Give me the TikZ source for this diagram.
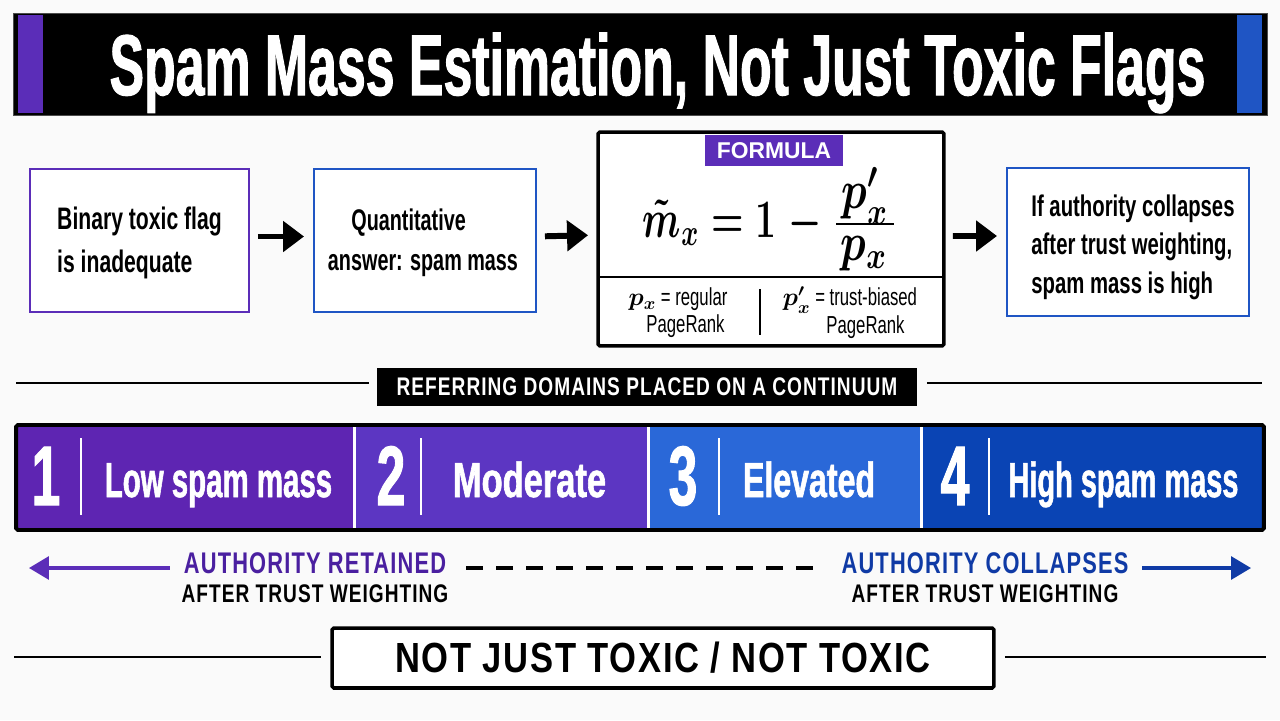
\documentclass[tikz,border=0pt]{standalone}
\usepackage[no-math]{fontspec}
\usepackage{amsmath}
\setmainfont{Liberation Sans}
\newfontfamily\condfont[FakeStretch=0.68]{Liberation Sans}
\newfontfamily\heavyfont[FakeStretch=0.68,FakeBold=1.2]{Liberation Sans Bold}
\newfontfamily\midfont[FakeStretch=0.75,LetterSpace=4]{Liberation Sans}
\newfontfamily\widefont[FakeStretch=0.82,LetterSpace=4]{Liberation Sans}
\usetikzlibrary{arrows.meta}
\definecolor{pagewhite}{HTML}{FAFAFA}
\definecolor{royalpurple}{HTML}{5B2DB8}
\definecolor{deeppurple}{HTML}{5E25B2}
\definecolor{midpurple}{HTML}{5C36C2}
\definecolor{darkpurple}{HTML}{4A1FA0}
\definecolor{brightblue}{HTML}{2A68D8}
\definecolor{edgeblue}{HTML}{1F55C4}
\definecolor{cobalt}{HTML}{0A44B4}
\definecolor{navyblue}{HTML}{0F3AA5}
\tikzset{
  plain/.style={inner sep=0pt,outer sep=0pt},
  flowbox/.style={plain,draw,line width=1.5pt,fill=white,minimum height=2.86cm},
  flowtext/.style={plain,align=left,font=\condfont\bfseries\fontsize{17}{23}\selectfont},
  bigarrow/.style={line width=3.4pt,-{Triangle[length=0.42cm,width=0.6cm]},shorten <=0.18cm,shorten >=0.2cm},
  eqnpart/.style={plain,anchor=base,yscale=2.14,font=\condfont\fontsize{14}{15.5}\selectfont},
  segment/.style={plain,minimum height=2.06cm},
  segnum/.style={plain,anchor=base,text=white,xscale=0.9,font=\heavyfont\fontsize{48}{48}\selectfont},
  seglabel/.style={plain,anchor=base,text=white,font=\heavyfont\fontsize{28}{28}\selectfont},
  segtick/.style={plain,fill=white,minimum width=0.05cm,minimum height=1.54cm},
  segline/.style={white,line width=1.7pt},
  rulefine/.style={line width=1.4pt},
  headtext/.style={plain,xscale=0.975,font=\midfont\bfseries\fontsize{17}{17}\selectfont},
  subtext/.style={plain,text=black,font=\midfont\bfseries\fontsize{14.5}{14.5}\selectfont},
  noteline/.style={plain,align=center,font=\condfont\fontsize{14}{15.5}\selectfont}
}
\begin{document}
\begin{tikzpicture}[x=0.02cm,y=-0.02cm]
\useasboundingbox (0,0) rectangle (1280,720);
\fill[pagewhite] (0,0) rectangle (1280,720);

% title bar
\node[plain,fill=black,draw=black!70,minimum width=25.08cm,minimum height=2.04cm] (titlebar) at (640,64) {};
\node[plain,fill=royalpurple,minimum width=0.5cm,minimum height=1.96cm] (titlel) at (30.5,64) {};
\node[plain,fill=edgeblue,minimum width=0.5cm,minimum height=1.96cm] (titler) at (1249.5,64) {};
\node[plain,anchor=base,xscale=0.885,text=white,font=\heavyfont\fontsize{49}{49}\selectfont] (title) at (657.5,95) {Spam Mass Estimation, Not Just Toxic Flags};

% top row
\node[flowbox,draw=royalpurple,minimum width=4.38cm] (binary) at (139.5,240.5) {};
\node[flowtext,font=\condfont\bfseries\fontsize{17.7}{23}\selectfont] (binarytext) at (139.5,243) {Binary toxic flag\\[1pt]is inadequate};
\node[flowbox,draw=edgeblue,minimum width=4.44cm] (quant) at (425,240.5) {};
\node[flowtext,xscale=0.975] (quanttext) at (423,243) {\hspace*{0.48cm}Quantitative\\answer: spam mass};
\node[plain,draw,line width=2pt,rounded corners=1pt,fill=white,minimum width=6.92cm,minimum height=4.28cm] (formula) at (771,239) {};
\node[flowbox,draw=edgeblue,minimum width=4.84cm,minimum height=2.96cm] (collapse) at (1128,242) {};
\node[flowtext] (collapsetext) at (1133,247) {If authority collapses\\[-1pt]after trust weighting,\\[-1pt]spam mass is high};
\draw[bigarrow] ([yshift=0.08cm]binary.east) -- ([yshift=0.08cm]quant.west);
\draw[bigarrow] ([yshift=0.08cm]quant.east) -- ([yshift=0.08cm]formula.west);
\draw[bigarrow] ([yshift=0.06cm]formula.east) -- ([yshift=0.12cm]collapse.west);

% formula box
\node[plain,fill=royalpurple,text=white,minimum width=2.76cm,minimum height=0.62cm,font=\bfseries\fontsize{13}{13}\selectfont] (tag) at (774,150.5) {FORMULA};
\node[eqnpart,xscale=1.47] (eqn) at (732.5,237.5) {{\boldmath$\tilde{m}_x = 1\mskip5mu{-}$}};
\node[plain,fill=black,minimum width=1.16cm,minimum height=0.05cm] (eqnbar) at (865,224) {};
\node[eqnpart,xscale=1.69] (eqnnum) at (865,208) {{\boldmath$p^\prime_x$}};
\node[eqnpart,xscale=1.69] (eqnden) at (864,260) {{\boldmath$p_x$}};
\coordinate (splitl) at (598,277);
\coordinate (splitr) at (944,277);
\draw[rulefine] (splitl) -- (splitr);
\node[noteline] (noteleft) at (678,312.5) {{\boldmath$p_x$} = regular\\\hspace*{0.3cm}PageRank};
\node[noteline] (noteright) at (850,312.5) {{\boldmath$p^\prime_x$} = trust-biased\\\hspace*{0.62cm}PageRank};
\node[plain,fill=black,minimum width=0.025cm,minimum height=0.92cm] (notesplit) at (760,312) {};

% section label
\node[plain,fill=black,text=white,minimum width=10.8cm,minimum height=0.76cm,font=\midfont\bfseries\fontsize{14.5}{14.5}\selectfont] (section) at (647,387) {REFERRING DOMAINS PLACED ON A CONTINUUM};
\coordinate (secl) at (16,383);
\coordinate (secr) at (1262,383);
\draw[rulefine,shorten >=0.16cm] (secl) -- (secl -| section.west);
\draw[rulefine,shorten <=0.2cm] (secr -| section.east) -- (secr);

% continuum bar
\node[segment,fill=deeppurple,minimum width=6.8cm] (seg1) at (185,477.5) {};
\node[segment,fill=midpurple,minimum width=5.86cm] (seg2) at (502.5,477.5) {};
\node[segment,fill=brightblue,minimum width=5.46cm] (seg3) at (785,477.5) {};
\node[segment,fill=cobalt,minimum width=6.88cm] (seg4) at (1093,477.5) {};
\draw[segline] (seg1.north east) -- (seg1.south east);
\draw[segline] (seg2.north east) -- (seg2.south east);
\draw[segline] (seg3.north east) -- (seg3.south east);
\node[plain,draw,line width=2.2pt,rounded corners=1pt,minimum width=24.96cm,minimum height=2.1cm] (barframe) at (640,477.5) {};
\node[segnum] (num1) at (46,505) {1};
\node[segtick] (tick1) at (81,476.5) {};
\node[seglabel,xscale=0.88] (lab1) at (218.5,497) {Low spam mass};
\node[segnum] (num2) at (391,505) {2};
\node[segtick] (tick2) at (421,476.5) {};
\node[seglabel,xscale=1.03] (lab2) at (529.5,497) {Moderate};
\node[segnum] (num3) at (683,505) {3};
\node[segtick] (tick3) at (719,476.5) {};
\node[seglabel,xscale=0.96] (lab3) at (809,497) {Elevated};
\node[segnum] (num4) at (955,505) {4};
\node[segtick] (tick4) at (989,476.5) {};
\node[seglabel,xscale=0.865] (lab4) at (1123.5,497) {High spam mass};

% under the bar
\node[headtext,text=darkpurple] (retained) at (315,563) {AUTHORITY RETAINED};
\node[subtext] (afterl) at (315,594) {AFTER TRUST WEIGHTING};
\node[headtext,text=navyblue] (collapses) at (985,563) {AUTHORITY COLLAPSES};
\node[subtext] (afterr) at (985,594) {AFTER TRUST WEIGHTING};
\coordinate (tipl) at (29,568);
\coordinate (tipr) at (1251,568);
\draw[royalpurple,line width=1.8pt,-{Triangle[length=0.4cm,width=0.46cm]},shorten <=0.28cm] (retained.west |- tipl) -- (tipl);
\draw[navyblue,line width=1.8pt,-{Triangle[length=0.4cm,width=0.46cm]},shorten <=0.28cm] (collapses.east |- tipr) -- (tipr);
\draw[line width=1.8pt,dash pattern=on 0.34cm off 0.26cm,shorten <=0.4cm,shorten >=0.5cm] (retained.east |- tipl) -- (collapses.west |- tipl);

% bottom label
\node[plain,draw,line width=2pt,rounded corners=1pt,fill=white,minimum width=13.24cm,minimum height=1.2cm,font=\widefont\bfseries\fontsize{24}{24}\selectfont] (bottom) at (663,658) {NOT JUST TOXIC / NOT TOXIC};
\coordinate (botl) at (14,657);
\coordinate (botr) at (1266,657);
\draw[rulefine,shorten >=0.22cm] (botl) -- (botl -| bottom.west);
\draw[rulefine,shorten <=0.22cm] (botr -| bottom.east) -- (botr);
\end{tikzpicture}
\end{document}
